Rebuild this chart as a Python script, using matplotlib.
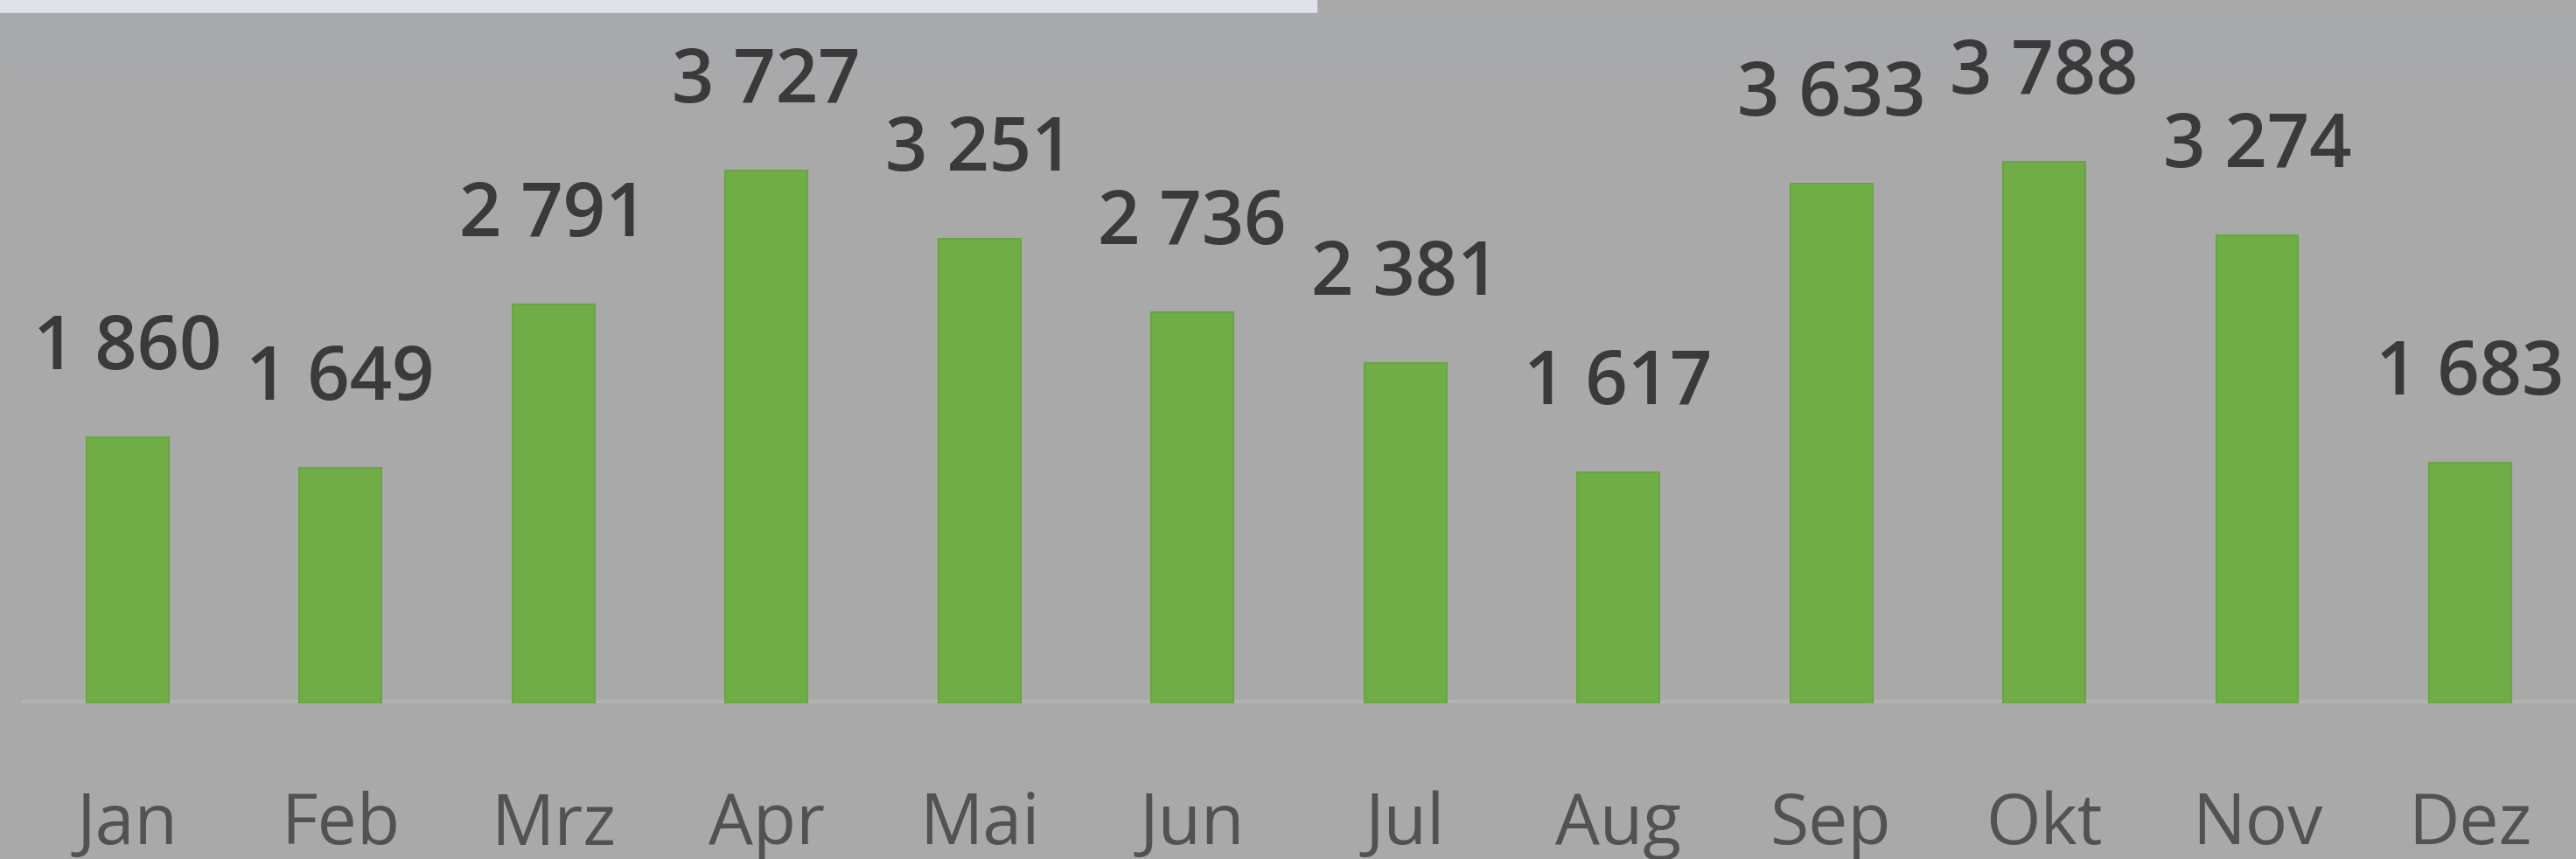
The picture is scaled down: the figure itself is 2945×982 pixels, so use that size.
"""Monthly totals bar chart (Jan - Dez) with value labels."""

import matplotlib.pyplot as plt
from matplotlib.patches import Rectangle

MONTHS = ["Jan", "Feb", "Mrz", "Apr", "Mai", "Jun",
          "Jul", "Aug", "Sep", "Okt", "Nov", "Dez"]
VALUES = [1860, 1649, 2791, 3727, 3251, 2736,
          2381, 1617, 3633, 3788, 3274, 1683]

BG = "#a9a9a9"
BAR = "#70ad47"


def fmt(v: int) -> str:
    # German-style thousands separator shown as a space
    return f"{v:,}".replace(",", " ")


def main() -> None:
    plt.rcParams["font.family"] = ["Open Sans", "DejaVu Sans"]

    fig = plt.figure(figsize=(29.45, 9.82), dpi=100, facecolor=BG)

    # light strip and slightly tinted row across the top of the backdrop
    fig.patches.append(Rectangle((0, 1 - 15 / 982), 1505 / 2945, 15 / 982,
                                 transform=fig.transFigure, color="#dfe2e8",
                                 zorder=0))
    fig.patches.append(Rectangle((0, 1 - 80 / 982), 1, 65 / 982,
                                 transform=fig.transFigure, color="#a8a9ac",
                                 zorder=0))

    ax = fig.add_axes([0, 178 / 982, 1, 804 / 982])
    ax.set_zorder(2)
    ax.set_facecolor("none")

    x = range(len(MONTHS))
    ax.bar(x, VALUES, width=0.386, color=BAR, edgecolor="#69a544",
           linewidth=1.5, zorder=3)

    for i, v in zip(x, VALUES):
        ax.annotate(fmt(v), (i, v), xytext=(0, 72), textcoords="offset points",
                    ha="center", va="center", fontsize=61, fontweight="semibold",
                    color="#3a3a3a")

    ax.axhline(0, xmin=28 / 2945, xmax=1, color="#b3b4b0", lw=6.5, zorder=2)

    ax.set_xlim(-0.598, 11.497)
    ax.set_ylim(0, 4920)
    ax.set_xticks(list(x))
    ax.set_xticklabels(MONTHS, fontsize=58, color="#525252")
    ax.tick_params(axis="x", length=0, pad=72)
    ax.set_yticks([])
    for s in ax.spines.values():
        s.set_visible(False)

    fig.savefig("out.png", dpi=100, facecolor=BG)


if __name__ == "__main__":
    main()
